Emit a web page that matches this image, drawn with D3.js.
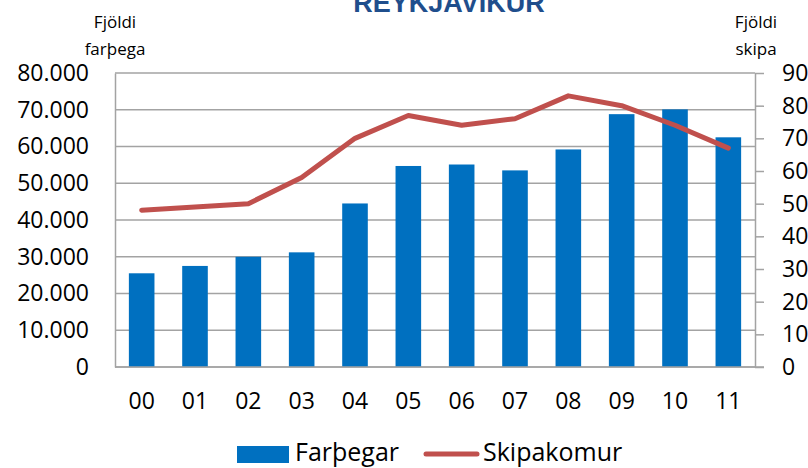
<!DOCTYPE html>
<html>
<head>
<meta charset="utf-8">
<script src="https://cdn.jsdelivr.net/npm/d3@7"></script>
<style>
  body { margin: 0; background: #fff; }
  text { font-family: "Open Sans", "Noto Sans", sans-serif; fill: #000; }
</style>
</head>
<body>
<svg width="808" height="468"></svg>
<script>
	// gögn
	var years = ["00", "01", "02", "03", "04", "05", "06", "07", "08", "09", "10", "11"];
	var farthegar = [25500, 27500, 30000, 31200, 44500, 54700, 55100, 53500, 59200, 68800, 70100, 62500];
	var skipakomur = [48, 49, 50, 58, 70, 77, 74, 76, 83, 80, 74, 67];
	var leftTicks = [0, 10000, 20000, 30000, 40000, 50000, 60000, 70000, 80000];
	var rightTicks = [0, 10, 20, 30, 40, 50, 60, 70, 80, 90];

	var svg = d3.select("svg");
	var plotL = 115, plotR = 755, plotT = 73, plotB = 367;

	var x = d3.scaleBand()
		.domain(years)
		.range([plotL, plotR])
		.paddingInner(0.52)
		.paddingOuter(0.26);
	var yL = d3.scaleLinear().domain([0, 80000]).range([plotB, plotT]);
	var yR = d3.scaleLinear().domain([0, 90]).range([plotB, plotT]);

	var is = d3.formatLocale({decimal: ",", thousands: ".", grouping: [3], currency: ["", ""]});
	var fmt = is.format(",");

	// gridlines
	svg.append("g").selectAll("line")
		.data(leftTicks)
		.enter()
		.append("line")
		.attr("x1", plotL)
		.attr("x2", plotR)
		.attr("y1", function(d) { return yL(d); })
		.attr("y2", function(d) { return yL(d); })
		.style("stroke", "#a3a3a3")
		.style("stroke-width", 1.5);

	// bars
	svg.append("g").selectAll("rect")
		.data(farthegar)
		.enter()
		.append("rect")
		.attr("x", function(d, i) { return x(years[i]); })
		.attr("y", function(d) { return yL(d); })
		.attr("width", x.bandwidth())
		.attr("height", function(d) { return plotB - yL(d); })
		.style("fill", "#0070C0");

	// left axis
	var gl = svg.append("g")
		.attr("transform", "translate(" + plotL + ",0)")
		.call(d3.axisLeft(yL).tickValues(leftTicks).tickFormat(fmt).tickSize(0).tickPadding(26));
	gl.select(".domain").style("stroke", "#a3a3a3").style("stroke-width", 1.5);
	gl.selectAll("text").style("font-size", "23px").style("font-family", "Open Sans");

	// right axis
	var gr = svg.append("g")
		.attr("transform", "translate(" + plotR + ",0)")
		.call(d3.axisRight(yR).tickValues(rightTicks).tickSize(9).tickSizeOuter(0).tickPadding(18));
	gr.select(".domain").style("stroke", "#a3a3a3").style("stroke-width", 1.5);
	gr.selectAll("line").style("stroke", "#a3a3a3").style("stroke-width", 1.5);
	gr.selectAll("text").style("font-size", "23px").style("font-family", "Open Sans");

	// x axis
	var gx = svg.append("g")
		.attr("transform", "translate(0," + plotB + ")")
		.call(d3.axisBottom(x).tickSize(0).tickPadding(26));
	gx.select(".domain").remove();
	gx.selectAll("text").style("font-size", "23px").style("font-family", "Open Sans");
	svg.append("line")
		.attr("x1", plotL).attr("x2", plotR + 9)
		.attr("y1", plotB).attr("y2", plotB)
		.style("stroke", "#a3a3a3").style("stroke-width", 1.5);

	// line
	var line = d3.line()
		.x(function(d, i) { return x(years[i]) + x.bandwidth() / 2; })
		.y(function(d) { return yR(d); });
	svg.append("path")
		.datum(skipakomur)
		.attr("d", line)
		.style("fill", "none")
		.style("stroke", "#C0504D")
		.style("stroke-width", 5)
		.style("stroke-linejoin", "round")
		.style("stroke-linecap", "round");

	// titill
	svg.append("text")
		.attr("x", 449)
		.attr("y", 12)
		.attr("text-anchor", "middle")
		.style("font-family", "'Liberation Sans Narrow', 'Liberation Sans', sans-serif")
		.style("font-weight", "bold")
		.style("font-size", "27px")
		.style("fill", "#1F4E8C")
		.text("REYKJAVÍKUR");

	// ás-titlar
	var axisTitles = [
		{x: 115, lines: ["Fjöldi", "farþega"]},
		{x: 756, lines: ["Fjöldi", "skipa"]}
	];
	axisTitles.forEach(function(t) {
		t.lines.forEach(function(s, j) {
			svg.append("text")
				.attr("x", t.x)
				.attr("y", 28 + j * 27)
				.attr("text-anchor", "middle")
				.style("font-size", "17px")
				.text(s);
		});
	});

	// legend
	var lg = svg.append("g");
	lg.append("rect")
		.attr("x", 237).attr("y", 446)
		.attr("width", 52).attr("height", 17)
		.style("fill", "#0070C0");
	lg.append("text")
		.attr("x", 295).attr("y", 461)
		.style("font-size", "25px")
		.text("Farþegar");
	lg.append("line")
		.attr("x1", 426).attr("x2", 477)
		.attr("y1", 454).attr("y2", 454)
		.style("stroke", "#C0504D")
		.style("stroke-width", 5)
		.style("stroke-linecap", "round");
	lg.append("text")
		.attr("x", 483).attr("y", 461)
		.style("font-size", "25px")
		.text("Skipakomur");
</script>
</body>
</html>
